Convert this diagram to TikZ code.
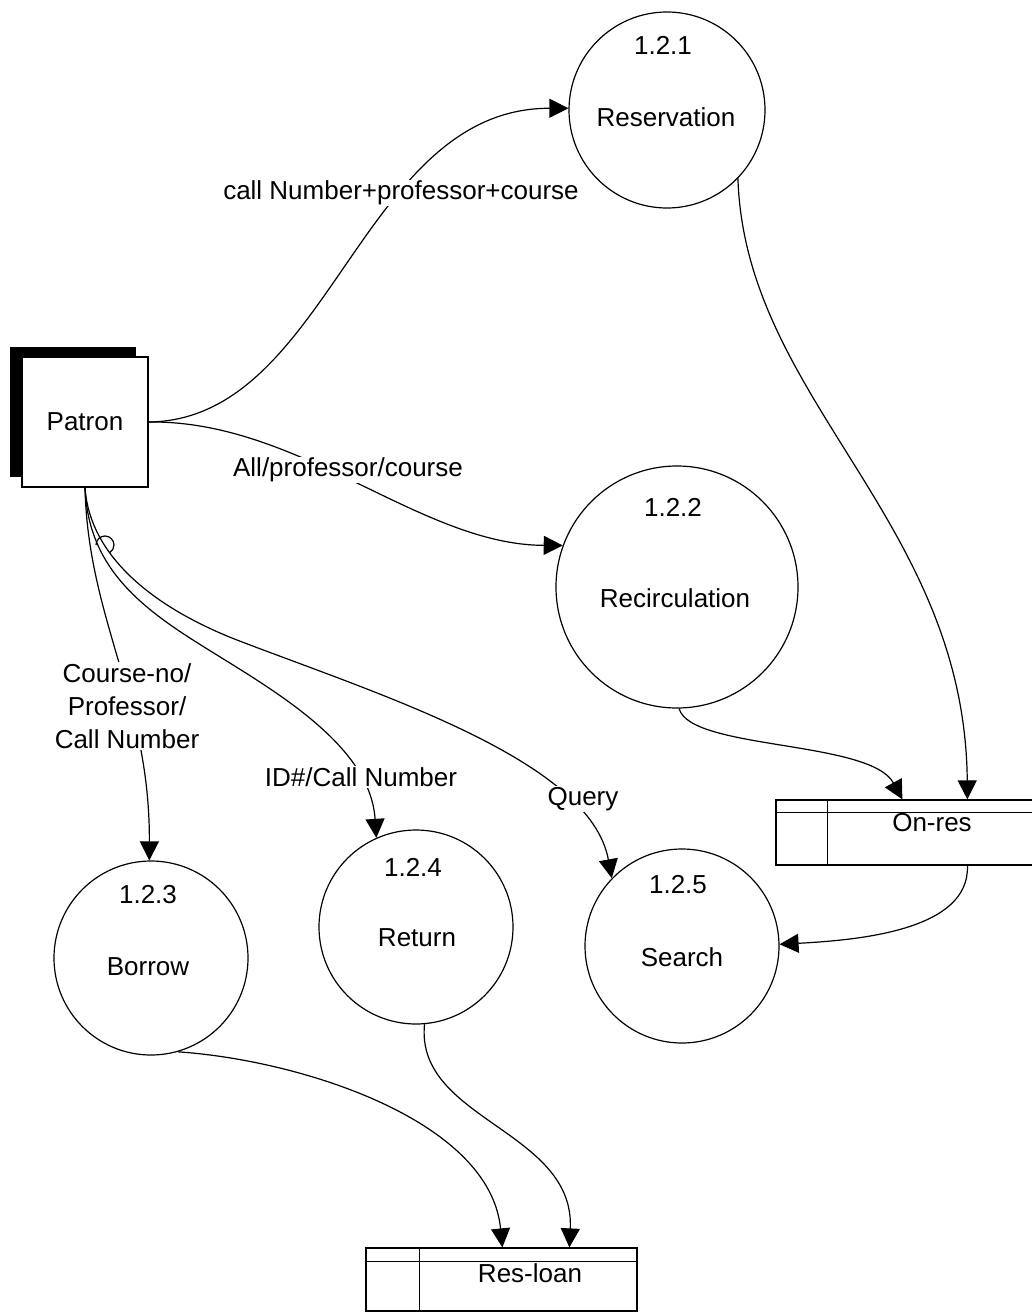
\documentclass[tikz,border=0pt]{standalone}
\usepackage{fontspec}
\setmainfont{Liberation Sans}
\usetikzlibrary{arrows.meta,shadows,calc}
\begin{document}
\begin{tikzpicture}[x=1pt,y=-1pt,
  line width=1.2pt,
  every node/.style={font=\fontsize{26}{31}\selectfont},
  process/.style={circle,draw,minimum size=#1,inner sep=0pt},
  flow/.style={-{Triangle[length=19pt,width=19pt]}},
  lbl/.style={fill=white,inner sep=1pt},
  txt/.style={inner sep=0pt},
  store/.style={draw,inner sep=0pt}
]
\useasboundingbox (0,0) rectangle (1031,1314);

% external entity with its dark shadow
\node[draw,fill=white,minimum width=126pt,minimum height=130pt,inner sep=0pt,
      general shadow={fill=black,shadow xshift=-12pt,shadow yshift=10pt}]
      (patron) at (85,422) {Patron};

% processes
\node[process=196pt] (p1) at (667,110) {};
\node[txt] (p1num)  at (663,45)  {1.2.1};
\node[txt] (p1name) at (666,117) {Reservation};

\node[process=242pt] (p2) at (677,587) {};
\node[txt] (p2num)  at (673,507) {1.2.2};
\node[txt] (p2name) at (675,598) {Recirculation};

\node[process=194pt] (p3) at (151,958) {};
\node[txt] (p3num)  at (148,895) {1.2.3};
\node[txt] (p3name) at (148,967) {Borrow};

\node[process=194pt] (p4) at (416,927) {};
\node[txt] (p4num)  at (413,867) {1.2.4};
\node[txt] (p4name) at (417,938) {Return};

\node[process=194pt] (p5) at (682,946) {};
\node[txt] (p5num)  at (678,885) {1.2.5};
\node[txt] (p5name) at (682,957) {Search};

% data stores
\node[store,minimum width=265pt,minimum height=65pt] (onres) at (908.5,832.5) {};
\draw ([yshift=-13pt]onres.north west) -- ([yshift=-13pt]onres.north east);
\draw ([xshift=52pt]onres.north west) -- ([xshift=52pt]onres.south west);
\node[txt] (onreslbl) at (932,823) {On-res};

\node[store,minimum width=271pt,minimum height=63pt] (resloan) at (501.5,1279.5) {};
\draw ([yshift=-14pt]resloan.north west) -- ([yshift=-14pt]resloan.north east);
\draw ([xshift=54pt]resloan.north west) -- ([xshift=54pt]resloan.south west);
\node[txt] (resloanlbl) at (530,1273) {Res-loan};

% data flows
\draw[flow] (patron.east) .. controls (330,420) and (360,108) .. (p1.179);
\draw[flow] (patron.east) .. controls (300,420) and (420,545) .. (p2.160);
\draw[flow] (patron.south) .. controls (88,620) and (150,700) .. (p3.91);
\draw[flow] (patron.south) .. controls (88,560) and (130,600) .. (193,640)
                           .. controls (260,683) and (370,740) .. (p4.114);
\draw[flow] (patron.south) .. controls (90,560) and (160,610) .. (237,640)
                           .. controls (380,695) and (590,760) .. (p5.136);
\draw (96,545) arc[start angle=180,end angle=420,radius=9];

\draw[flow] (p1.-44) .. controls (745,400) and (965,520) .. ([xshift=192pt]onres.north west);
\draw[flow] (p2.-89) .. controls (690,750) and (870,740) .. ([xshift=127pt]onres.north west);
\draw[flow] ([xshift=192pt]onres.south west) .. controls (970,930) and (860,940) .. (p5.1);
\draw[flow] (p3.-74) .. controls (300,1060) and (490,1120) .. ([xshift=137pt]resloan.north west);
\draw[flow] (p4.-85) .. controls (415,1120) and (575,1130) .. ([xshift=204pt]resloan.north west);

% flow labels
\node[lbl] (l1) at (401,193) {call Number+professor+course};
\node[lbl] (l2) at (348,470) {All/professor/course};
\node[lbl,align=center,font=\fontsize{26}{33}\selectfont] (l3) at (127,706)
  {Course-no/\\Professor/\\Call Number};
\node[lbl] (l4) at (361,777) {ID\#/Call Number};
\node[lbl] (l5) at (583,799) {Query};
\end{tikzpicture}
\end{document}
